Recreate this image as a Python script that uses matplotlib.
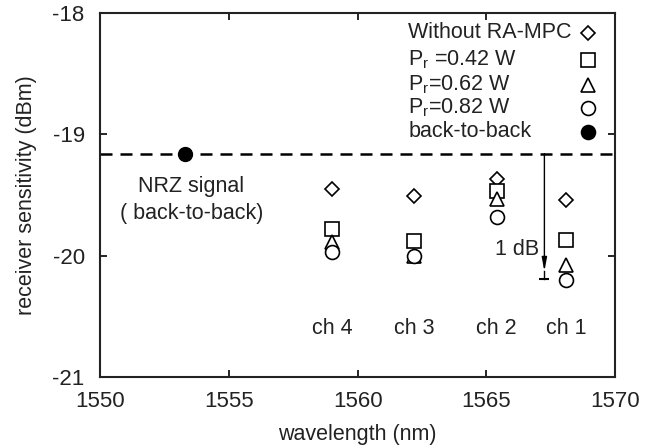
import matplotlib.pyplot as plt

plt.rcParams['font.family'] = ['Liberation Sans', 'DejaVu Sans']
plt.rcParams['mathtext.fontset'] = 'custom'
plt.rcParams['mathtext.rm'] = 'Liberation Sans'

# channel wavelengths (nm)
channels = ['ch 4', 'ch 3', 'ch 2', 'ch 1']
wavelength = [1559.0, 1562.2, 1565.4, 1568.1]

# receiver sensitivity (dBm)
without_mpc = [-19.45, -19.51, -19.37, -19.54]
pr_042 = [-19.78, -19.88, -19.47, -19.87]
pr_062 = [-19.89, -20.00, -19.53, -20.08]
pr_082 = [-19.97, -20.00, -19.68, -20.20]

b2b_wavelength = 1553.3
b2b_sens = -19.16
arrow_x = 1567.25
arrow_end = -20.19

fig = plt.figure(figsize=(6.58, 4.46), dpi=100)
ax = fig.add_axes([0.152, 0.155, 0.783, 0.816])

fs = 15.5
ink = '#222222'
mk = dict(linestyle='none', markerfacecolor='white', markeredgecolor='black', markeredgewidth=1.2)

ax.axhline(b2b_sens, color='black', lw=1.8, ls=(0, (4.8, 3.2)), zorder=1)
ax.plot(b2b_wavelength, b2b_sens, 'o', color='black', ms=10, zorder=3)

ax.plot(wavelength, without_mpc, marker='D', ms=7.5, **mk)
ax.plot(wavelength, pr_042, marker='s', ms=10, **mk)
ax.plot(wavelength, pr_062, marker='^', ms=10, **mk)
ax.plot(wavelength, pr_082, marker='o', ms=10, **mk)

# 1 dB arrow
ax.annotate('', xy=(arrow_x, arrow_end + 0.06), xytext=(arrow_x, b2b_sens),
            arrowprops=dict(arrowstyle='-|>,head_width=0.15,head_length=0.8',
                            color='black', lw=1.0, shrinkA=0, shrinkB=0))
ax.plot([arrow_x, arrow_x], [arrow_end + 0.06, arrow_end], color='black', lw=1.0)
ax.plot(arrow_x, arrow_end, marker='_', color='black', ms=7, mew=1.5)
ax.text(arrow_x - 0.2, -19.95, '1 dB', fontsize=fs, ha='right', va='center', color=ink)

ax.text(1553.55, -19.43, 'NRZ signal', fontsize=fs, ha='center', va='center', color=ink)
ax.text(1553.55, -19.65, '( back-to-back)', fontsize=fs, ha='center', va='center', color=ink)

for w, c in zip(wavelength, channels):
    ax.text(w, -20.6, c, fontsize=fs, ha='center', va='center', color=ink)

# legend, drawn by hand: text left aligned, markers right aligned
leg_labels = ['Without RA-MPC', r'P$_\mathregular{r}$ =0.42 W',
              r'P$_\mathregular{r}$=0.62 W', r'P$_\mathregular{r}$=0.82 W',
              'back-to-back']
leg_markers = ['D', 's', '^', 'o', 'o']
leg_ms = [7.5, 10, 10, 10, 10]
leg_fill = ['white', 'white', 'white', 'white', 'black']
leg_y = [0.945, 0.871, 0.802, 0.739, 0.673]
for lab, m, s, fc, y in zip(leg_labels, leg_markers, leg_ms, leg_fill, leg_y):
    ax.text(0.598, y, lab, fontsize=fs, ha='left', va='center', color=ink,
            transform=ax.transAxes)
    ax.plot(0.948, y, marker=m, ms=s, markerfacecolor=fc, markeredgecolor='black',
            markeredgewidth=1.2, transform=ax.transAxes, clip_on=False)

ax.set_xlim(1550, 1570)
ax.set_ylim(-21, -18)
ax.set_xticks([1550, 1555, 1560, 1565, 1570])
ax.set_yticks([-21, -20, -19, -18])
ax.set_yticklabels(['-21', '-20', '-19', '-18'])
ax.tick_params(direction='in', length=5, width=1.2, top=True, right=True,
               labelsize=16, pad=10, labelcolor=ink)
ax.tick_params(axis='y', pad=11)
for sp in ax.spines.values():
    sp.set_linewidth(1.5)
    sp.set_color(ink)

ax.set_xlabel('wavelength (nm)', fontsize=fs, labelpad=9, color=ink)
ax.set_ylabel('receiver sensitivity (dBm)', fontsize=fs, labelpad=11, color=ink)

fig.savefig('out.png', dpi=100)
